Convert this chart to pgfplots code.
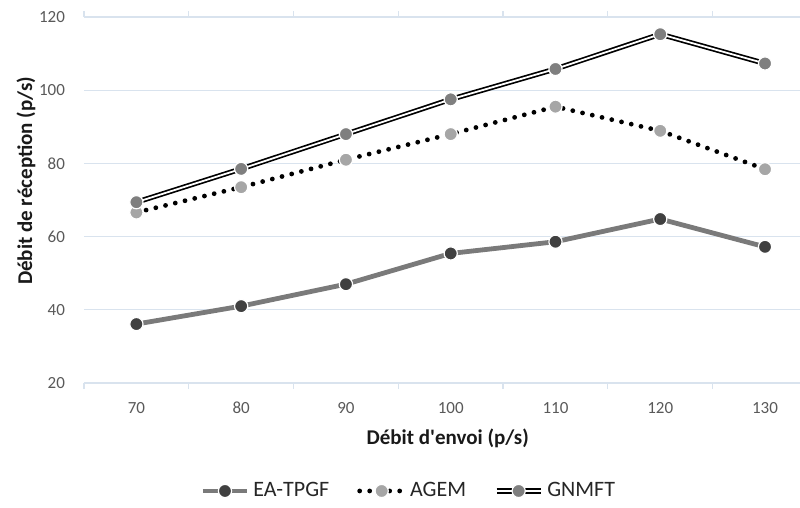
\documentclass[border=0pt]{standalone}
\usepackage{fontspec}
\setmainfont{Carlito}[Ligatures=TeXOff]
\usepackage{pgfplots}
\pgfplotsset{compat=1.18}
\definecolor{gridc}{HTML}{D9E3EE}
\definecolor{tickc}{HTML}{595959}
\definecolor{eac}{HTML}{7A7A7A}
\definecolor{eam}{HTML}{404040}
\definecolor{agm}{HTML}{A6A6A6}
\definecolor{gnm}{HTML}{7F7F7F}
\begin{document}
\begin{tikzpicture}
\begin{axis}[
  name=ax,
  scale only axis,
  width=358pt, height=183pt,
  xmin=-0.5, xmax=6.334,
  ymin=20, ymax=120,
  ytick={20,40,...,120},
  xtick={0,1,2,3,4,5,6},
  xticklabels={70,80,90,100,110,120,130},
  minor xtick={-0.5,0.5,1.5,2.5,3.5,4.5,5.5},
  ymajorgrids,
  grid style={gridc, line width=0.6pt},
  axis line style={draw=none},
  major tick length=0pt,
  minor tick length=3pt,
  tick align=outside,
  minor tick style={gridc, line width=0.6pt},
  tick label style={font=\fontsize{8.5}{10}\selectfont, text=tickc},
  /pgf/number format/assume math mode=true,
  yticklabel style={xshift=-6pt},
  xticklabel style={yshift=-6pt},
  xlabel={\textbf{Débit d'envoi (p/s)}},
  ylabel={\textbf{Débit de réception (p/s)}},
  label style={font=\fontsize{10.5}{12}\selectfont, text=black!90},
  xlabel style={at={(axis description cs:0.508,-0.150)}, anchor=center},
  ylabel style={at={(axis description cs:-0.081,0.552)}, anchor=center},
  legend columns=-1,
  legend style={at={(axis description cs:0.455,-0.295)}, anchor=center, draw=none,
    font=\fontsize{11}{13}\selectfont, text=black!85,
    /tikz/every even column/.append style={column sep=12pt}},
  legend image code/.code={\draw[mark repeat=2, mark phase=2, #1] plot coordinates {(0pt,0pt) (11pt,0pt) (22pt,0pt)};},
]
\addplot[eac, line width=2.4pt, mark=*, mark size=3.3pt,
  mark options={solid, fill=eam, draw=white, line width=0.6pt}]
  coordinates {(0,36.1) (1,41.0) (2,47.0) (3,55.4) (4,58.6) (5,64.8) (6,57.2)};
\addlegendentry{EA-TPGF}
\addplot[black, line width=2.4pt, line cap=round, dash pattern=on 0pt off 5pt, mark=*, mark size=3.3pt,
  mark options={solid, fill=agm, draw=white, line width=0.6pt}]
  coordinates {(0,66.6) (1,73.5) (2,81.0) (3,88.0) (4,95.5) (5,88.9) (6,78.4)};
\addlegendentry{AGEM}
\addlegendimage{legend image code/.code={
  \draw[black, line width=2.6pt] (0pt,0pt) -- (22pt,0pt);
  \draw[white, line width=0.9pt] (0pt,0pt) -- (22pt,0pt);
  \draw[white, line width=0.6pt, fill=gnm] (11pt,0pt) circle (3.3pt);}}
\addlegendentry{GNMFT}
\addplot[black, line width=2.6pt, forget plot]
  coordinates {(0,69.4) (1,78.5) (2,88.0) (3,97.5) (4,105.8) (5,115.3) (6,107.3)};
\addplot[white, line width=0.9pt, mark=*, mark size=3.3pt, forget plot,
  mark options={solid, fill=gnm, draw=white, line width=0.6pt}]
  coordinates {(0,69.4) (1,78.5) (2,88.0) (3,97.5) (4,105.8) (5,115.3) (6,107.3)};
\end{axis}
\pgfresetboundingbox
\path[use as bounding box] ([shift={(-42pt,-62pt)}]ax.south west) rectangle ([shift={(0pt,191.5pt)}]ax.south east);
\end{tikzpicture}
\end{document}
